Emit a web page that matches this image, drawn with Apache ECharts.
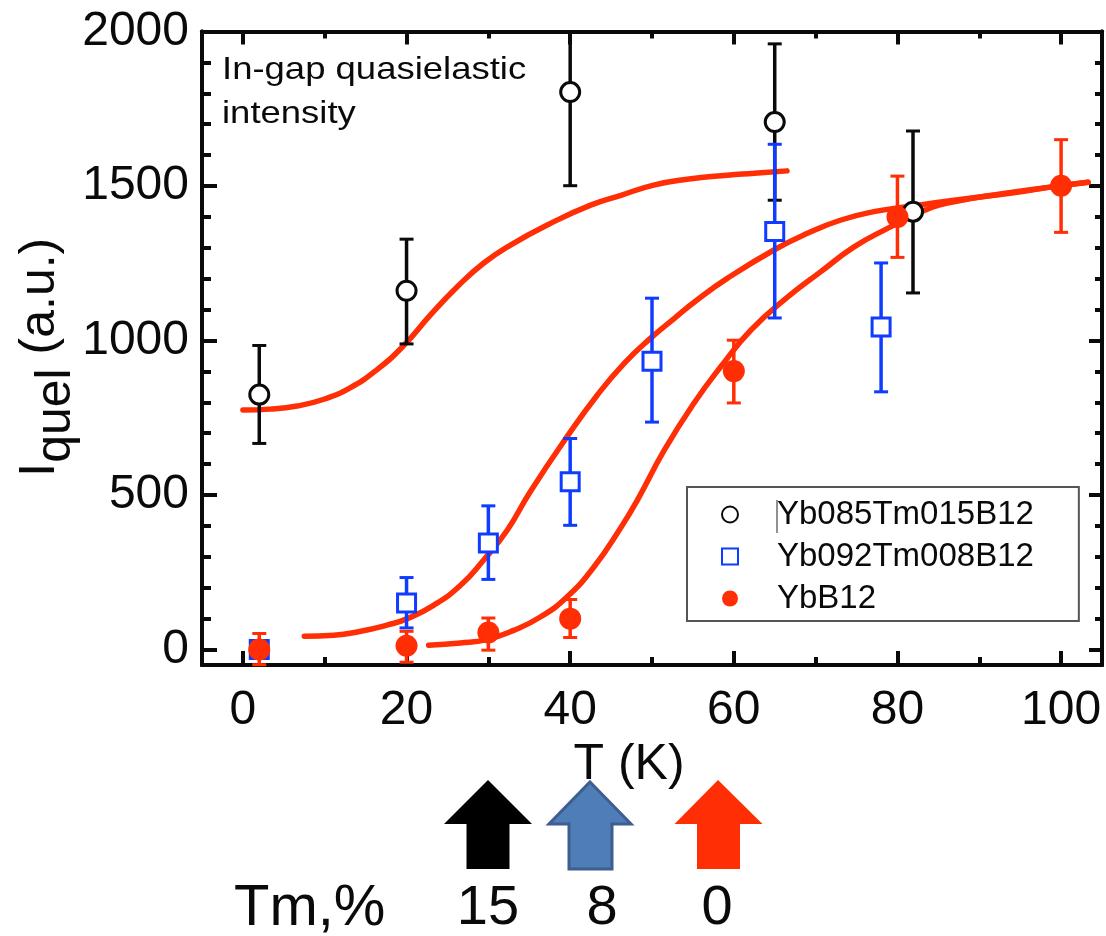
<!DOCTYPE html>
<html><head><meta charset="utf-8">
<style>html,body{margin:0;padding:0;background:#fff}#c{width:1106px;height:936px}</style>
<script src="https://cdn.jsdelivr.net/npm/echarts@6/dist/echarts.min.js"></script>
</head><body><div id="c"></div>
<script>
const xMajorTicks = [0,20,40,60,80,100];
const xMinorTicks = [10,30,50,70,90];
const yMajorTicks = [0,500,1000,1500,2000];
const yMinorTicks = [100,200,300,400,600,700,800,900,1100,1200,1300,1400,1600,1700,1800,1900];

const nameBlack = 'Yb085Tm015B12';
const nameBlue = 'Yb092Tm008B12';
const nameRed = 'YbB12';

const blackT = [2,20,40,65,81.9];
const blackI = [825,1161,1804,1707,1417];
const blackLow = [667,989,1501,1454,1154];
const blackHigh = [984,1328,2000,1960,1678];

const blueT = [2,20,30,40,50,65,78];
const blueI = [0,151,345,543,933,1353,1044];
const blueLow = [-10,70,227,402,736,1073,834];
const blueHigh = [10,233,465,683,1137,1635,1251];

const redT = [2,20,30,40,60,80,100];
const redI = [0,12,55,100,901,1400,1501];
const redLow = [-49,-41,-2,39,798,1269,1350];
const redHigh = [52,59,102,162,1001,1532,1650];

const fit15T = [0,3.3,6.6,9.9,13.1,16.4,19.7,22.9,26.2,29.4,32.7,37.6,42.5,46.2,50.2,54.3,59.2,62.5,66.5];
const fit15I = [775,778,788,810,847,906,985,1082,1174,1250,1309,1379,1438,1470,1503,1522,1535,1541,1549];
const fit8T = [7.5,11.1,14.4,17.6,20.1,23.3,26.6,29.4,32.3,35.1,39.6,43.3,46.6,49.8,52.7,55.5,59.2,64.9,69,73.1,77.1,81.2,86.9,94.2,99.1,103.3];
const fit8I = [43,46,59,79,100,143,208,289,386,510,688,823,926,1007,1071,1131,1201,1293,1347,1390,1417,1433,1454,1478,1498,1512];
const fit0T = [22.7,26.6,29.8,33.1,36.4,39.6,42.9,46.2,48.2,51.5,55.1,58.4,62.1,66.6,70.6,74.7,78.8,82.9,86.9,93,99.1,103.3];
const fit0I = [14,21,32,62,106,170,267,395,483,645,796,915,1034,1141,1222,1303,1363,1417,1449,1476,1498,1512];

const RED = '#ff2e05', BLUE = '#0f3cff', BLACK = '#0a0a0a', FONT = '"Liberation Sans", Arial, sans-serif';
const pairs = (a,b) => a.map((v,i) => [v,b[i]]);

function fitSeries(t,i){
  return {type:'line',data:pairs(t,i),smooth:0.5,showSymbol:false,silent:true,z:2,
    lineStyle:{color:RED,width:5.5,cap:'round'},itemStyle:{color:RED}};
}
function errSeries(t,low,high,color,z){
  return {type:'custom',z,silent:true,clip:false,
    data:t.map((v,i)=>[v,low[i],high[i]]),
    encode:{x:0,y:[1,2]},
    renderItem(p,api){
      const a=api.coord([api.value(0),api.value(1)]), b=api.coord([api.value(0),api.value(2)]);
      const s={stroke:color,lineWidth:3.5,fill:null}, c={stroke:color,lineWidth:3,fill:null};
      return {type:'group',children:[
        {type:'line',shape:{x1:a[0],y1:a[1],x2:b[0],y2:b[1]},style:s},
        {type:'line',shape:{x1:a[0]-7,y1:a[1],x2:a[0]+7,y2:a[1]},style:c},
        {type:'line',shape:{x1:b[0]-7,y1:b[1],x2:b[0]+7,y2:b[1]},style:c}
      ]};
    }};
}
function pointSeries(name,t,i,symbol,size,fill,stroke,z){
  return {type:'scatter',name,data:pairs(t,i),symbol,symbolSize:size,z,silent:true,
    itemStyle:{color:fill,borderColor:stroke,borderWidth:stroke==='none'?0:3,opacity:1}};
}
const plain = v => String(v);
function xAx(position,ticks,len,labels){
  return {type:'value',min:-5,max:105,position,splitLine:{show:false},
    axisLine:{show:true,onZero:false,lineStyle:{color:BLACK,width:4}},
    axisTick:{show:true,inside:true,length:len,customValues:ticks,lineStyle:{color:BLACK,width:4}},
    axisLabel:labels?{show:true,customValues:ticks,formatter:plain,margin:22,fontSize:48,fontFamily:FONT,color:BLACK}:{show:false}};
}
function yAx(position,ticks,len,labels){
  return {type:'value',min:-50,max:2000,position,splitLine:{show:false},
    axisLine:{show:true,onZero:false,lineStyle:{color:BLACK,width:4}},
    axisTick:{show:true,inside:true,length:len,customValues:ticks,lineStyle:{color:BLACK,width:4}},
    axisLabel:labels?{show:true,customValues:ticks,formatter:plain,margin:13,fontSize:48,fontFamily:FONT,color:BLACK}:{show:false}};
}
function arrow(pts,fill,stroke,lw){
  return {type:'polygon',shape:{points:pts},style:{fill,stroke:stroke||fill,lineWidth:lw||0},z:10};
}
function label(text,x,y,size,align,sx){
  return {type:'text',x,y,z:10,scaleX:sx||1,style:{text,fontSize:size,fontFamily:FONT,fill:BLACK,align:align||'left',verticalAlign:'middle'}};
}

const bottomX = xAx('bottom',xMajorTicks,14,true);
bottomX.name='T (K)'; bottomX.nameLocation='middle'; bottomX.nameGap=72;
bottomX.nameTextStyle={fontSize:50,fontFamily:FONT,color:BLACK,padding:[0,46,0,0]};
const leftY = yAx('left',yMajorTicks,15,true);
leftY.name='{a|I}{b|quel}{a| (a.u.)}'; leftY.nameLocation='middle'; leftY.nameGap=121; leftY.nameRotate=90; leftY.nameMoveOverlap=false;
leftY.nameTextStyle={padding:[0,18,0,0],rich:{
  a:{fontSize:50,fontFamily:FONT,color:BLACK,lineHeight:56,verticalAlign:'top'},
  b:{fontSize:50,fontFamily:FONT,color:BLACK,lineHeight:66,verticalAlign:'bottom'}}};

const chart = echarts.init(document.getElementById('c'),null,{renderer:'canvas'});
chart.setOption({
  animation:false,backgroundColor:'#fff',
  grid:{left:202,top:31.5,width:900,height:633.5,containLabel:false,outerBoundsMode:'none'},
  xAxis:[bottomX,xAx('bottom',xMinorTicks,8,false),xAx('top',xMajorTicks,13,false),xAx('top',xMinorTicks,7,false)],
  yAxis:[leftY,yAx('left',yMinorTicks,9,false),yAx('right',yMajorTicks,13,false),yAx('right',yMinorTicks,7,false)],
  legend:{show:true,left:687,top:487,orient:'vertical',align:'left',
    data:[nameBlack,nameBlue,nameRed],selectedMode:false,
    backgroundColor:'#fff',borderColor:'#555',borderWidth:2,
    padding:[10,45,5,34],itemWidth:16,itemHeight:16,itemGap:7,
    textStyle:{fontSize:33,fontFamily:FONT,color:BLACK,lineHeight:35,padding:[0,0,0,34]}},
  series:[
    fitSeries(fit15T,fit15I),fitSeries(fit8T,fit8I),fitSeries(fit0T,fit0I),
    errSeries(blackT,blackLow,blackHigh,BLACK,3),
    pointSeries(nameBlack,blackT,blackI,'circle',19,'#fff',BLACK,4),
    errSeries(blueT,blueLow,blueHigh,BLUE,5),
    pointSeries(nameBlue,blueT,blueI,'rect',18,'#fff',BLUE,6),
    errSeries(redT,redLow,redHigh,RED,7),
    pointSeries(nameRed,redT,redI,'circle',22,RED,'none',8)
  ],
  graphic:[
    label('In-gap quasielastic',222,70,32,'left',1.14),
    label('intensity',222,114,32,'left',1.14),
    {type:'line',shape:{x1:777,y1:500,x2:777,y2:533},style:{stroke:'#222',lineWidth:1},z:20},
    arrow([[488,780],[532,824],[509.5,824],[509.5,869],[466.5,869],[466.5,824],[444,824]],'#000'),
    arrow([[590,782],[631,824],[612,824],[612,869],[569,869],[569,824],[549,824]],'#4f7db8','#3d5e8e',3),
    arrow([[718,780],[762.5,824],[740,824],[740,869],[697,869],[697,824],[674.5,824]],RED),
    label('Tm,%',234,909,58),
    label('15',488,909,56,'center'),
    label('8',602,909,56,'center'),
    label('0',717,909,56,'center')
  ]
});
</script></body></html>
